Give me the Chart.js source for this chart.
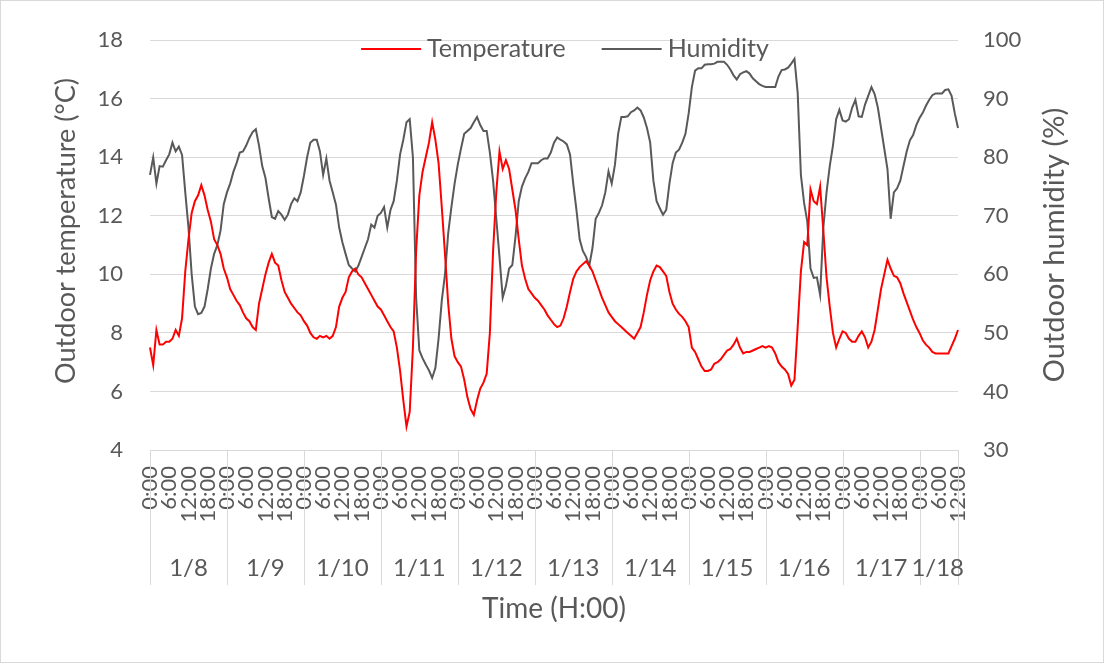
<!DOCTYPE html>
<html>
<head>
<meta charset="utf-8">
<script src="https://cdn.jsdelivr.net/npm/chart.js@4.4.1/dist/chart.umd.min.js"></script>
<style>
  html, body { margin: 0; padding: 0; background: #fff; }
  #myChart { display: block; }
</style>
</head>
<body>
<canvas id="myChart" width="1104" height="663"></canvas>
<script>
// one value per hour, from 1/8 0:00 to 1/18 12:00
let days = ['1/8', '1/9', '1/10', '1/11', '1/12', '1/13', '1/14', '1/15', '1/16', '1/17', '1/18'];
let hourTicks = ['0:00', '6:00', '12:00', '18:00'];

let temperature = [
    7.5, 6.9, 8.1, 7.6, 7.6, 7.7, 7.7, 7.8, 8.1, 7.9,
    8.5, 10.1, 11.2, 12.1, 12.5, 12.7, 13.05, 12.7, 12.2, 11.8,
    11.2, 11.0, 10.7, 10.2, 9.9, 9.5, 9.3, 9.1, 8.95, 8.7,
    8.5, 8.4, 8.2, 8.1, 9.0, 9.5, 10.0, 10.4, 10.7, 10.4,
    10.3, 9.8, 9.4, 9.2, 9.0, 8.85, 8.7, 8.6, 8.4, 8.25,
    8.0, 7.85, 7.8, 7.9, 7.85, 7.9, 7.8, 7.9, 8.2, 8.9,
    9.2, 9.4, 9.9, 10.1, 10.2, 10.0, 9.9, 9.7, 9.5, 9.3,
    9.1, 8.9, 8.8, 8.6, 8.4, 8.2, 8.05, 7.5, 6.7, 5.7,
    4.8, 5.3, 7.5, 10.8, 12.7, 13.5, 14.0, 14.5, 15.2, 14.6,
    13.8, 12.3, 10.7, 9.0, 7.8, 7.2, 7.0, 6.85, 6.4, 5.8,
    5.4, 5.2, 5.7, 6.1, 6.3, 6.6, 8.0, 10.8, 12.8, 14.2,
    13.6, 13.9, 13.6, 12.9, 12.2, 11.2, 10.3, 9.85, 9.5, 9.35,
    9.2, 9.1, 8.95, 8.8, 8.6, 8.45, 8.3, 8.2, 8.25, 8.5,
    8.9, 9.4, 9.85, 10.1, 10.25, 10.35, 10.45, 10.3, 10.1, 9.8,
    9.5, 9.2, 8.95, 8.7, 8.55, 8.4, 8.3, 8.2, 8.1, 8.0,
    7.9, 7.8, 8.0, 8.2, 8.7, 9.3, 9.8, 10.1, 10.3, 10.25,
    10.1, 9.95, 9.4, 9.0, 8.8, 8.65, 8.55, 8.4, 8.2, 7.5,
    7.35, 7.1, 6.85, 6.7, 6.7, 6.75, 6.95, 7.0, 7.1, 7.25,
    7.4, 7.45, 7.6, 7.8, 7.5, 7.3, 7.35, 7.35, 7.4, 7.45,
    7.5, 7.55, 7.5, 7.55, 7.5, 7.3, 7.0, 6.85, 6.75, 6.6,
    6.2, 6.4, 8.2, 10.1, 11.1, 11.0, 12.9, 12.5, 12.4, 13.0,
    11.5, 9.9, 8.9, 8.0, 7.5, 7.8, 8.05, 8.0, 7.8, 7.7,
    7.7, 7.9, 8.05, 7.85, 7.5, 7.7, 8.1, 8.8, 9.5, 10.0,
    10.5, 10.2, 9.95, 9.9, 9.7, 9.35, 9.05, 8.75, 8.45, 8.2,
    8.0, 7.75, 7.6, 7.5, 7.35, 7.3, 7.3, 7.3, 7.3, 7.3,
    7.55, 7.8, 8.1
];

let humidity = [
    77, 80, 75.5, 78.5, 78.4, 79.5, 80.5, 82.5, 81, 81.8,
    80.4, 74, 68, 60, 54.5, 53.2, 53.4, 54.5, 57.5, 61,
    63.5, 65, 67.5, 72, 74, 75.5, 77.5, 79, 80.8, 81,
    82, 83.3, 84.3, 84.8, 82, 78.5, 76.5, 73, 69.8, 69.5,
    70.8, 70.2, 69.3, 70.2, 72, 73, 72.5, 74, 76.8, 80,
    82.5, 83, 83, 81, 77, 79.8, 76, 74, 71.9, 68,
    65.5, 63.5, 61.6, 61, 60.5, 61.5, 63, 64.5, 66, 68.5,
    68, 70, 70.5, 71.5, 68, 71, 72.5, 76, 80.5, 83,
    86, 86.5, 80, 56, 47, 45.7, 44.6, 43.6, 42.3, 44,
    49, 55.5, 60, 67, 71.5, 75.5, 78.8, 81.5, 84, 84.5,
    85, 86, 86.9, 85.5, 84.5, 84.5, 80.8, 76, 69.5, 63,
    56, 58, 61, 61.6, 66.5, 72.5, 75, 76.4, 77.5, 79,
    79, 79, 79.5, 79.8, 79.8, 80.8, 82.5, 83.4, 83, 82.7,
    82.2, 80.5, 75.5, 71, 66, 64, 63, 61.5, 64.5, 69.5,
    70.5, 71.8, 74, 77.6, 75.5, 78.7, 84, 86.9, 86.9, 87,
    87.7, 88, 88.5, 88, 86.8, 85, 82.5, 76, 72.5, 71.3,
    70.2, 71, 75.5, 79, 80.8, 81.3, 82.5, 84, 87.5, 92,
    94.8, 95.2, 95.2, 95.8, 95.9, 95.9, 96, 96.3, 96.3, 96.3,
    95.8, 95, 94, 93.3, 94.2, 94.5, 94.7, 94.3, 93.5, 93,
    92.5, 92.2, 92, 92, 92, 92, 93.8, 94.9, 95, 95.3,
    96, 96.8, 91, 77, 72.2, 69, 61, 59.4, 59.5, 56.5,
    68, 74, 78.5, 82, 86.5, 88.1, 86.3, 86.1, 86.5, 88.5,
    89.8, 87, 86.9, 89, 90.5, 92, 90.8, 88.5, 85, 81.5,
    78, 69.5, 74, 74.7, 76, 78.5, 81, 82.9, 83.8, 85.5,
    86.7, 87.6, 88.8, 89.8, 90.6, 90.9, 90.9, 90.9, 91.5, 91.6,
    90.5, 87.5, 85
];

let labels = [];
for (let i = 0; i < temperature.length; i++) {
    labels.push(days[Math.floor(i / 24)] + ' ' + (i % 24) + ':00');
}

let gridColor = '#d9d9d9';
let textColor = '#595959';
let fontName = 'Lato';

Chart.defaults.font.family = fontName;
Chart.defaults.color = textColor;

function drawUpTitle(c, text, x, y, size) {
    c.save();
    c.font = size + 'px ' + fontName;
    c.fillStyle = textColor;
    c.textAlign = 'center';
    c.textBaseline = 'middle';
    c.translate(x, y);
    c.rotate(-Math.PI / 2);
    c.fillText(text, 0, 0);
    c.restore();
}

// day row, separators, legend, y titles and frame
let extras = {
    id: 'extras',
    beforeDraw(chart) {
        let c = chart.ctx;
        c.save();
        c.fillStyle = '#fff';
        c.fillRect(0, 0, chart.width, chart.height);
        c.restore();
    },
    afterDraw(chart) {
        let c = chart.ctx;
        let xs = chart.scales.x;
        let area = chart.chartArea;
        let last = labels.length - 1;
        c.save();

        // day separators
        c.strokeStyle = gridColor;
        c.lineWidth = 1;
        let edges = [];
        for (let d = 0; d < days.length; d++) edges.push(d * 24);
        edges.push(last);
        edges.forEach(idx => {
            let px = Math.round(xs.getPixelForValue(idx)) + 0.5;
            c.beginPath();
            c.moveTo(px, area.bottom);
            c.lineTo(px, area.bottom + 135);
            c.stroke();
        });

        // day labels, the short last day is pushed left so it stays inside
        c.fillStyle = textColor;
        c.font = '24px ' + fontName;
        c.textAlign = 'center';
        c.textBaseline = 'middle';
        let endPx = xs.getPixelForValue(last);
        days.forEach((day, d) => {
            let a = xs.getPixelForValue(d * 24);
            let b = xs.getPixelForValue(Math.min((d + 1) * 24, last));
            let w = c.measureText(day).width;
            let cx = Math.min((a + b) / 2, endPx + 6 - w / 2);
            c.fillText(day, cx, area.bottom + 118);
        });

        // axis titles, both reading bottom to top
        drawUpTitle(c, chart.options.scales.y.title.text, 66, 231, 27);
        drawUpTitle(c, chart.options.scales.y1.title.text, 1055, (area.top + area.bottom) / 2, 29);

        // legend over the top of the plot
        c.font = '25px ' + fontName;
        let sample = 60, gap = 6, itemGap = 36;
        let items = chart.data.datasets.map(ds => ({ text: ds.label, color: ds.borderColor, w: c.measureText(ds.label).width }));
        let total = items.reduce((s, it) => s + sample + gap + it.w, 0) + itemGap * (items.length - 1);
        let lx = 565 - total / 2;
        let ly = 49;
        c.textAlign = 'left';
        items.forEach(it => {
            c.strokeStyle = it.color;
            c.lineWidth = 2;
            c.beginPath();
            c.moveTo(lx, ly);
            c.lineTo(lx + sample, ly);
            c.stroke();
            c.fillStyle = textColor;
            c.fillText(it.text, lx + sample + gap, ly);
            lx += sample + gap + it.w + itemGap;
        });

        // chart frame
        c.strokeStyle = gridColor;
        c.lineWidth = 1;
        c.strokeRect(0.5, 0.5, chart.width - 1, chart.height - 1);
        c.restore();
    }
};

let ctx = document.getElementById('myChart').getContext('2d');

let myChart = new Chart(ctx, {
    type: 'line',
    data: {
        labels: labels,
        datasets: [{
            label: 'Temperature',
            data: temperature,
            yAxisID: 'y',
            borderColor: '#ff0000',
            borderWidth: 2,
            pointRadius: 0,
            tension: 0
        }, {
            label: 'Humidity',
            data: humidity,
            yAxisID: 'y1',
            borderColor: '#595959',
            borderWidth: 2,
            pointRadius: 0,
            tension: 0
        }]
    },
    options: {
        responsive: false,
        animation: false,
        devicePixelRatio: 1,
        layout: {
            padding: { top: 38, left: 0, right: 0, bottom: 0 }
        },
        scales: {
            x: {
                type: 'category',
                offset: false,
                grid: { display: false, drawTicks: false },
                border: { display: false },
                ticks: {
                    autoSkip: false,
                    minRotation: 90,
                    maxRotation: 90,
                    padding: 16,
                    font: { size: 22 },
                    callback: function(value, index) {
                        return index % 6 === 0 ? hourTicks[(index % 24) / 6] : '';
                    }
                },
                title: {
                    display: true,
                    text: 'Time (H:00)',
                    font: { size: 28 },
                    padding: { top: 0, bottom: 37 }
                },
                afterFit: function(scale) {
                    scale.height = 213;
                }
            },
            y: {
                position: 'left',
                min: 4,
                max: 18,
                grid: { color: gridColor, drawTicks: false },
                border: { display: false },
                ticks: {
                    stepSize: 2,
                    padding: 27,
                    font: { size: 22 }
                },
                title: {
                    display: false,
                    text: 'Outdoor temperature (°C)'
                },
                afterFit: function(scale) {
                    scale.width = 150;
                }
            },
            y1: {
                position: 'right',
                min: 30,
                max: 100,
                grid: { display: false, drawTicks: false },
                border: { display: false },
                ticks: {
                    stepSize: 10,
                    padding: 25,
                    font: { size: 22 }
                },
                title: {
                    display: false,
                    text: 'Outdoor humidity (%)'
                },
                afterFit: function(scale) {
                    scale.width = 146;
                }
            }
        },
        plugins: {
            legend: { display: false },
            tooltip: { enabled: false }
        }
    },
    plugins: [extras]
});
</script>
</body>
</html>
